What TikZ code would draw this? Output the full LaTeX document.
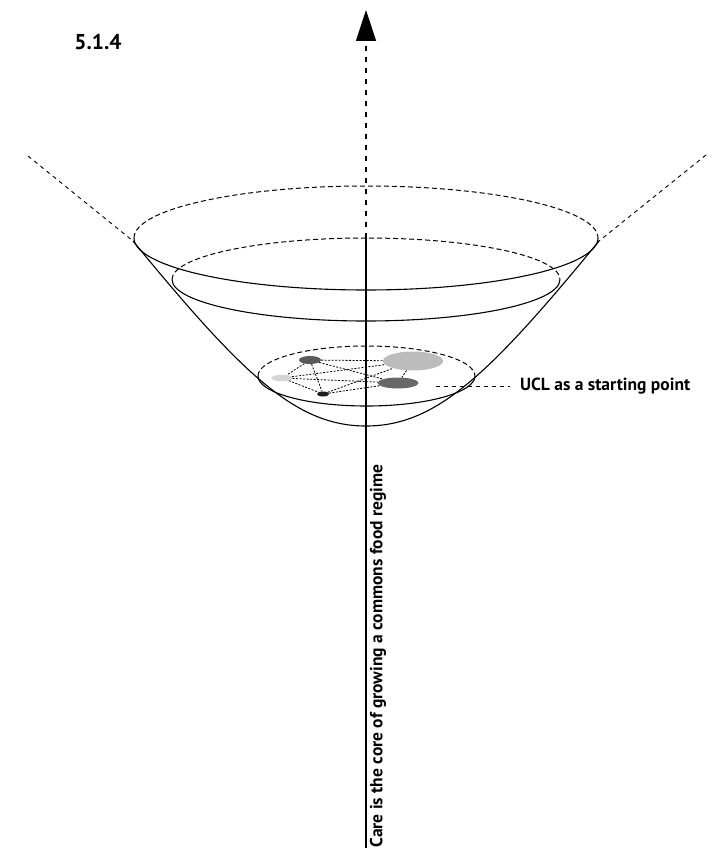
\documentclass[tikz,border=0pt]{standalone}
\usepackage{fontspec}
\setmainfont{PT Sans}
\usetikzlibrary{arrows.meta,shapes,positioning}
\definecolor{actordark}{RGB}{90,90,90}
\definecolor{actormid}{RGB}{104,104,104}
\definecolor{actorpale}{RGB}{212,212,212}
\definecolor{actorlight}{RGB}{188,188,188}
\definecolor{actorblack}{RGB}{30,30,30}

\tikzset{
  rim/.style={line width=1.1pt},
  rimback/.style={line width=1pt, dash pattern=on 5pt off 3pt},
  guide/.style={line width=0.9pt, dash pattern=on 4pt off 4pt},
  link/.style={line width=0.8pt, dash pattern=on 2pt off 1.5pt},
  actor/.style={ellipse, inner sep=0pt},
  caption/.style={font=\bfseries\fontsize{17.5}{20}\selectfont, inner sep=0pt}
}

\begin{document}
\begin{tikzpicture}[x=1pt,y=1pt,yscale=-1]
\useasboundingbox (0,0) rectangle (724,851);

% axis
\coordinate (axistop) at (366,10);
\coordinate (axisrim) at (366,238);
\coordinate (axisfoot) at (366,848);
\draw[line width=1.2pt, dash pattern=on 5pt off 6pt, -{Triangle[length=31pt,width=20pt]}] (axisrim) -- (axistop);
\draw[rim] (axisrim) -- (axisfoot);

% outer guides
\coordinate (lefttip) at (28,156);
\coordinate (leftlip) at (133,241);
\coordinate (righttip) at (706,155);
\coordinate (rightlip) at (599,241);
\draw[guide] (lefttip) -- (leftlip);
\draw[guide] (righttip) -- (rightlip);

% rims
\draw[rimback] (134,238) arc[start angle=180, end angle=360, x radius=232, y radius=52];
\draw[rim] (134,238) arc[start angle=180, end angle=0, x radius=232, y radius=52];
\draw[rimback] (172,279.5) arc[start angle=180, end angle=360, x radius=194, y radius=41.5];
\draw[rim] (172,279.5) arc[start angle=180, end angle=0, x radius=194, y radius=41.5];
\draw[rimback] (258,376) arc[start angle=180, end angle=360, x radius=108.5, y radius=30];
\draw[rim] (258,376) arc[start angle=180, end angle=0, x radius=108.5, y radius=30];

% bowl
\draw[rim] (leftlip) .. controls (243,375) and (296,426) .. (366,426)
  .. controls (436,426) and (489,375) .. (rightlip);

% actors
\node[actor, fill=actordark, minimum width=22pt, minimum height=8pt] (farm) at (310,360) {};
\node[actor, fill=actorpale, minimum width=21pt, minimum height=6.5pt] (kitchen) at (282,378) {};
\node[actor, fill=actorblack, minimum width=12pt, minimum height=5pt] (market) at (323,394) {};
\node[actor, fill=actorlight, minimum width=60pt, minimum height=19pt] (campus) at (413,361) {};
\node[actor, fill=actormid, minimum width=41pt, minimum height=11pt] (garden) at (398,383) {};
\foreach \a/\b in {farm/kitchen, farm/market, farm/campus, farm/garden,
                   kitchen/market, kitchen/campus, kitchen/garden,
                   market/campus, market/garden, campus/garden}
  \draw[link] (\a) -- (\b);

% labels
\node[caption, font=\bfseries\fontsize{21.5}{24}\selectfont] (figno) at (98,42) {5.1.4};
\node[caption, anchor=west] (ucl) at (520,386) {UCL as a starting point};
\coordinate (uclstart) at (436,386);
\draw[guide] (uclstart) -- ([xshift=-10pt]ucl.west);
\node[caption, rotate=90] (care) at (378,656) {Care is the core of growing a commons food regime};
\end{tikzpicture}
\end{document}
